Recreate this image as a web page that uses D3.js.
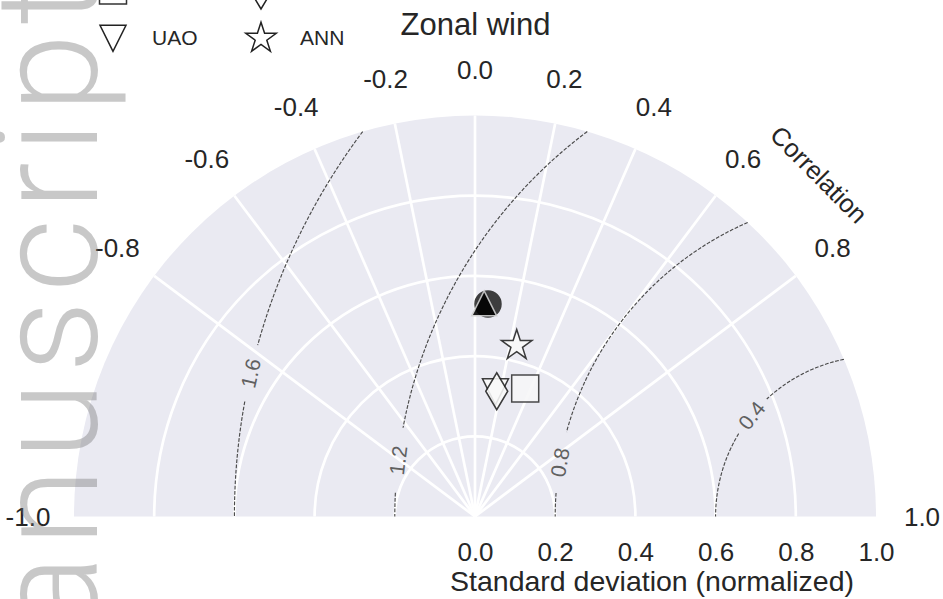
<!DOCTYPE html>
<html><head><meta charset="utf-8">
<script src="https://cdn.jsdelivr.net/npm/d3@7"></script>
<style>
body{margin:0;background:#fff;}
svg{display:block;font-family:"Liberation Sans",Arial,sans-serif;}
</style>
</head><body>
<svg id="chart" width="943" height="599"></svg>
<script>
// ---------------- data ----------------
const title = "Zonal wind";
const stdTicks = [0.0, 0.2, 0.4, 0.6, 0.8, 1.0];
const stdGrid = [0.2, 0.4, 0.6, 0.8];
const corrTicks = [-1.0, -0.8, -0.6, -0.4, -0.2, 0.0, 0.2, 0.4, 0.6, 0.8, 1.0];
const corrGrid = [-0.8, -0.6, -0.4, -0.2, 0.0, 0.2, 0.4, 0.6, 0.8];
const rmsLevels = [0.4, 0.8, 1.2, 1.6];
const rmsLabelAngle = [140.9, 170.3, 173.3, 167.1];   // where each contour label sits (deg, around reference)
const rmsLabelGap = [22, 30, 32, 28];                  // half-gap in px around label
const refStd = 1.0;
const seriesNames = ["", "", "UAO", "", "", "ANN"];
const seriesMarkers = ["circle", "square", "triangleDown", "triangleUp", "thinDiamond", "star"];
const seriesStd = [0.531, 0.343, 0.315, 0.532, 0.317, 0.439];
const seriesCorr = [0.061, 0.365, 0.162, 0.043, 0.171, 0.237];
const xLabel = "Standard deviation (normalized)";
const corrLabel = "Correlation";

// ---------------- layout ----------------
const svg = d3.select("#chart");
const cx = 475, cy = 516.5, R = 401;
const x = d3.scaleLinear().domain([-1, 1]).range([cx - R, cx + R]);
const y = d3.scaleLinear().domain([0, 1]).range([cy, cy - R]);
const rS = d3.scaleLinear().domain([0, 1]).range([0, R]);
const sx = d3.scaleLinear().domain([0, 1]).range([cx, cx + R]);
const pt = (s, c) => [x(s * c), y(s * Math.sqrt(Math.max(0, 1 - c * c)))];
const fmt = v => d3.format(".1f")(v).replace("\u2212", "-");

// background disk
svg.append("path")
  .attr("transform", `translate(${cx},${cy})`)
  .attr("d", d3.arc().innerRadius(0).outerRadius(rS(1)).startAngle(-Math.PI / 2).endAngle(Math.PI / 2)())
  .attr("fill", "#EAEAF2");

// grid: std arcs
const grid = svg.append("g").attr("fill", "none").attr("stroke", "#fff").attr("stroke-width", 2.7);
stdGrid.forEach(s => {
  const p = d3.path();
  p.arc(cx, cy, rS(s), Math.PI, 2 * Math.PI, false);
  grid.append("path").attr("d", p.toString());
});
// grid: correlation rays
corrGrid.forEach(c => {
  const [x1, y1] = pt(1, c);
  grid.append("line").attr("x1", cx).attr("y1", cy).attr("x2", x1).attr("y2", y1);
});

// RMS contours
const cont = svg.append("g");
const line = d3.line().x(d => x(d[0])).y(d => y(d[1]));
rmsLevels.forEach((rms, i) => {
  const xi = (2 * refStd * refStd - rms * rms) / (2 * refStd);
  const yi = Math.sqrt(Math.max(0, refStd * refStd - xi * xi));
  const phi0 = Math.atan2(yi, xi - refStd);
  const phiL = rmsLabelAngle[i] * Math.PI / 180;
  const gap = rmsLabelGap[i] / rS(rms);
  const segs = [[], []];
  const n = 300;
  for (let k = 0; k <= n; k++) {
    const phi = phi0 + (Math.PI - phi0) * k / n;
    if (Math.abs(phi - phiL) < gap) continue;
    segs[phi < phiL ? 0 : 1].push([refStd + rms * Math.cos(phi), rms * Math.sin(phi)]);
  }
  segs.forEach(sg => {
    if (sg.length > 1) cont.append("path").attr("d", line(sg)).attr("fill", "none")
      .attr("stroke", "#4a4a4a").attr("stroke-width", 1.15).attr("stroke-dasharray", "3.7,1.6");
  });
  const lx = x(refStd + rms * Math.cos(phiL)), ly = y(rms * Math.sin(phiL));
  const rot = Math.atan2(Math.cos(phiL), Math.sin(phiL)) * 180 / Math.PI;
  cont.append("text").attr("transform", `translate(${lx},${ly}) rotate(${rot})`)
    .attr("text-anchor", "middle").attr("dominant-baseline", "central")
    .attr("font-size", 21).attr("fill", "#606060").text(fmt(rms));
});

// markers
function markerPath(type) {
  const p = d3.path();
  if (type === "circle") { p.arc(0, 0, 13, 0, 2 * Math.PI); }
  else if (type === "square") { p.rect(-13.5, -13.5, 27, 27); }
  else if (type === "triangleUp") { p.moveTo(0, -12.5); p.lineTo(12.5, 12.5); p.lineTo(-12.5, 12.5); p.closePath(); }
  else if (type === "triangleDown") { p.moveTo(0, 13); p.lineTo(-13, -13); p.lineTo(13, -13); p.closePath(); }
  else if (type === "thinDiamond") { p.moveTo(0, -18.5); p.lineTo(11, 0); p.lineTo(0, 18.5); p.lineTo(-11, 0); p.closePath(); }
  else if (type === "star") {
    const ro = 16, ri = 16 * 0.381966;
    for (let k = 0; k < 10; k++) {
      const a = -Math.PI / 2 + k * Math.PI / 5, r = k % 2 ? ri : ro;
      k ? p.lineTo(r * Math.cos(a), r * Math.sin(a)) : p.moveTo(r * Math.cos(a), r * Math.sin(a));
    }
    p.closePath();
  }
  return p.toString();
}
const mFill = {circle: "#262626", square: "#f7f7f8", triangleUp: "#000", triangleDown: "#fafafa", thinDiamond: "#fafafa", star: "#fafafa"};
const mStroke = {circle: "#262626", square: "#333", triangleUp: "#cfcfcf", triangleDown: "#222", thinDiamond: "#222", star: "#222"};

const mk = svg.append("g");
seriesStd.forEach((s, i) => {
  const [px, py] = pt(s, seriesCorr[i]);
  const t = seriesMarkers[i];
  mk.append("path").attr("d", markerPath(t)).attr("transform", `translate(${px},${py})`)
    .attr("fill", mFill[t]).attr("stroke", mStroke[t]).attr("stroke-width", 1.5)
    .attr("stroke-linejoin", "miter").attr("opacity", 0.88);
});

// correlation tick labels
const ct = svg.append("g").attr("font-size", 26).attr("fill", "#262626");
corrTicks.forEach(c => {
  const th = Math.acos(c);
  ct.append("text").attr("x", cx + 447 * Math.cos(th)).attr("y", cy - 447 * Math.sin(th))
    .attr("text-anchor", "middle").attr("dominant-baseline", "central").text(fmt(c));
});
{
  const c = 0.709, th = Math.acos(c);
  svg.append("text")
    .attr("transform", `translate(${cx + 485 * Math.cos(th)},${cy - 485 * Math.sin(th)}) rotate(${90 - th * 180 / Math.PI})`)
    .attr("text-anchor", "middle").attr("dominant-baseline", "central")
    .attr("font-size", 25.5).attr("fill", "#262626").text(corrLabel);
}

// std axis
const ax = svg.append("g").attr("transform", `translate(0,${cy})`)
  .call(d3.axisBottom(sx).tickValues(stdTicks).tickFormat(fmt).tickSize(0).tickPadding(26));
ax.select(".domain").remove();
ax.selectAll("text").attr("font-size", 26).attr("fill", "#262626").attr("font-family", "Liberation Sans, Arial, sans-serif");
svg.append("text").attr("x", 652).attr("y", 591).attr("text-anchor", "middle")
  .attr("font-size", 28.5).attr("fill", "#262626").text(xLabel);

// title
svg.append("text").attr("x", 475.5).attr("y", 35).attr("text-anchor", "middle")
  .attr("font-size", 31).attr("fill", "#262626").text(title);

// legend (column-major, 2 columns x 3 rows; upper rows fall above the picture)
const legColX = [113, 261], legRowY = [-57, -9.5, 38.3];
const lg = svg.append("g");
seriesMarkers.forEach((t, i) => {
  const col = Math.floor(i / 3), row = i % 3;
  const mx = legColX[col], my = legRowY[row];
  lg.append("path").attr("d", markerPath(t)).attr("transform", `translate(${mx},${my})`)
    .attr("fill", t === "circle" || t === "triangleUp" ? mFill[t] : "#fff")
    .attr("stroke", mStroke[t] === "#cfcfcf" ? "#000" : mStroke[t]).attr("stroke-width", 1.5);
  if (seriesNames[i]) {
    lg.append("text").attr("x", mx + 39).attr("y", my + 6.5).attr("font-size", 21)
      .attr("fill", "#262626").text(seriesNames[i]);
  }
});

// watermark
svg.append("text").attr("transform", "translate(97,766) rotate(-90)")
  .attr("font-family", "Roboto, Liberation Sans, sans-serif").attr("font-weight", 300)
  .attr("font-size", 142).attr("letter-spacing", 8.8).attr("fill", "rgb(110,110,110)").attr("fill-opacity", 0.38)
  .text("manuscript");
</script>
</body></html>
